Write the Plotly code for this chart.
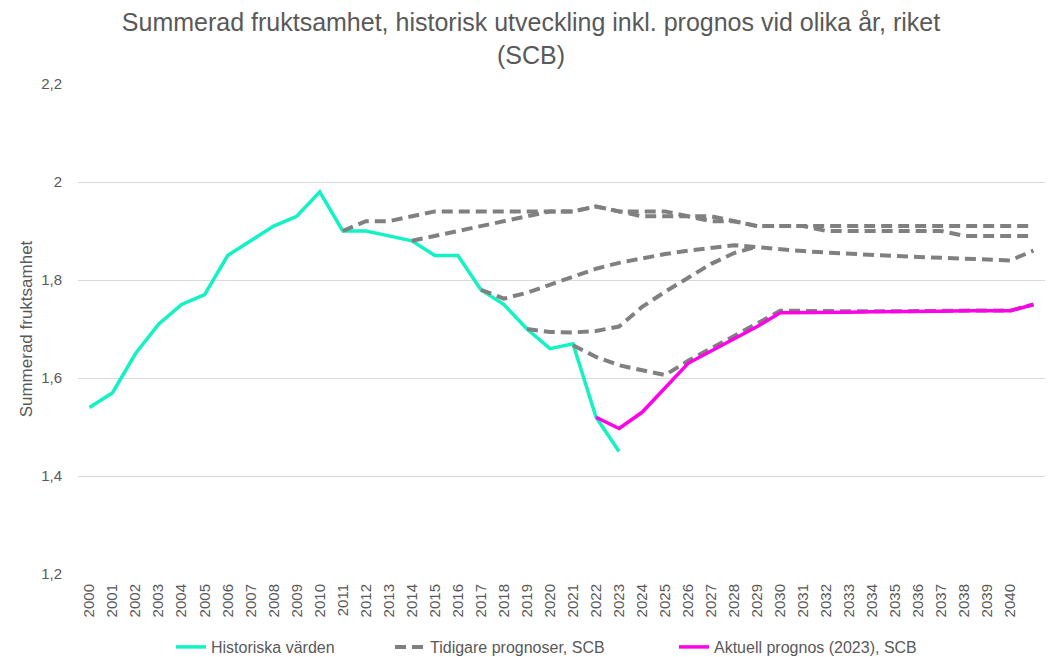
import plotly.graph_objects as go

tick_labels = [str(y) for y in range(2000, 2041)]

hist_years = list(range(2000, 2024))
hist_vals = [1.54, 1.57, 1.65, 1.71, 1.75, 1.77, 1.85, 1.88, 1.91, 1.93, 1.98, 1.90,
             1.90, 1.89, 1.88, 1.85, 1.85, 1.78, 1.75, 1.70, 1.66, 1.67, 1.52, 1.45]

cur_years = list(range(2022, 2042))
cur_vals = [1.52, 1.497, 1.53, 1.58, 1.63, 1.655, 1.68, 1.705, 1.733, 1.733,
            1.733, 1.734, 1.735, 1.735, 1.735, 1.736, 1.737, 1.737, 1.737, 1.75]

# Earlier forecasts (SCB)
f2011_years = list(range(2011, 2042))
f2011_vals = [1.90, 1.92, 1.92, 1.93, 1.94, 1.94, 1.94, 1.94, 1.94, 1.94, 1.94, 1.95,
              1.94, 1.94, 1.94, 1.93, 1.93, 1.92, 1.91, 1.91, 1.91, 1.91, 1.91, 1.91,
              1.91, 1.91, 1.91, 1.91, 1.91, 1.91, 1.91]

f2014_years = list(range(2014, 2042))
f2014_vals = [1.88, 1.89, 1.90, 1.91, 1.92, 1.93, 1.94, 1.94, 1.95, 1.94, 1.93, 1.93,
              1.93, 1.92, 1.92, 1.91, 1.91, 1.91, 1.90, 1.90, 1.90, 1.90, 1.90, 1.90,
              1.89, 1.89, 1.89, 1.89]

f2017_years = list(range(2017, 2042))
f2017_vals = [1.78, 1.762, 1.774, 1.79, 1.808, 1.823, 1.835, 1.845, 1.853, 1.86,
              1.866, 1.871, 1.867, 1.862, 1.859, 1.856, 1.853, 1.851, 1.849, 1.847,
              1.845, 1.843, 1.841, 1.84, 1.86]

f2019_years = list(range(2019, 2030))
f2019_vals = [1.70, 1.694, 1.693, 1.696, 1.705, 1.745, 1.776, 1.805, 1.833, 1.855, 1.868]

f2021_years = list(range(2021, 2042))
f2021_vals = [1.667, 1.643, 1.626, 1.616, 1.606, 1.635, 1.66, 1.685, 1.71, 1.737,
              1.737, 1.736, 1.736, 1.736, 1.736, 1.737, 1.737, 1.738, 1.738, 1.738, 1.75]

y_ticks = [1.2, 1.4, 1.6, 1.8, 2.0, 2.2]
y_tick_text = ["1,2", "1,4", "1,6", "1,8", "2", "2,2"]

TEAL = "#12F2C2"
GRAY = "#808080"
MAGENTA = "#FF00E8"
TXT = "#595959"
FONT = "Liberation Sans, Arial, sans-serif"

W, H = 1060, 657
OFF = 8  # page body margin offset

fig = go.Figure()

forecasts = [(f2011_years, f2011_vals), (f2014_years, f2014_vals),
             (f2017_years, f2017_vals), (f2019_years, f2019_vals),
             (f2021_years, f2021_vals)]

fig.add_trace(go.Scatter(x=hist_years, y=hist_vals, mode="lines",
                         name="Historiska värden", legend="legend",
                         line=dict(color=TEAL, width=3.5)))
for i, (fx, fy) in enumerate(forecasts):
    fig.add_trace(go.Scatter(x=fx, y=fy, mode="lines",
                             name="Tidigare prognoser, SCB", legend="legend2",
                             legendgroup="tidigare", showlegend=(i == 0),
                             line=dict(color=GRAY, width=4, dash="11px,6px")))
fig.add_trace(go.Scatter(x=cur_years, y=cur_vals, mode="lines",
                         name="Aktuell prognos (2023), SCB", legend="legend3",
                         line=dict(color=MAGENTA, width=3.5)))


def leg(sx):
    return dict(orientation="h", x=(sx - OFF - 5) / W, xanchor="left", xref="container",
                y=(H - (647 - OFF)) / H, yref="container", yanchor="middle",
                font=dict(family=FONT, size=16, color=TXT), bgcolor="rgba(0,0,0,0)")


fig.update_layout(
    width=W, height=H,
    margin=dict(l=78 - OFF, r=W - (1045 - OFF), t=84 - OFF, b=H - (574 - OFF), autoexpand=False),
    paper_bgcolor="white", plot_bgcolor="white",
    font=dict(family=FONT, color=TXT, size=13),
    title=dict(text="Summerad fruktsamhet, historisk utveckling inkl. prognos vid olika år, riket<br>(SCB)",
               x=(531 - OFF) / W, xref="container", xanchor="center",
               y=1 - (31 - OFF) / H, yref="container", yanchor="middle",
               font=dict(family=FONT, size=25, color=TXT)),
    legend=leg(176),
    legend2=leg(395),
    legend3=leg(679),
    showlegend=True,
)

fig.update_xaxes(range=[1999.5, 2041.5], tickmode="array", tickvals=list(range(2000, 2041)),
                 ticktext=tick_labels, tickangle=-90, showgrid=False, zeroline=False,
                 showline=False, ticks="", automargin=False, ticklabelstandoff=6,
                 tickfont=dict(size=15, color=TXT))
fig.update_yaxes(range=[1.2, 2.2], tickmode="array", tickvals=y_ticks, ticktext=y_tick_text,
                 showgrid=True, gridcolor="#D9D9D9", gridwidth=1, zeroline=False,
                 showline=False, ticks="", ticklabelstandoff=15, automargin=False,
                 tickfont=dict(size=15, color=TXT),
                 title=dict(text="Summerad fruktsamhet", font=dict(size=17, color=TXT), standoff=4))

fig.write_html("out.html")
